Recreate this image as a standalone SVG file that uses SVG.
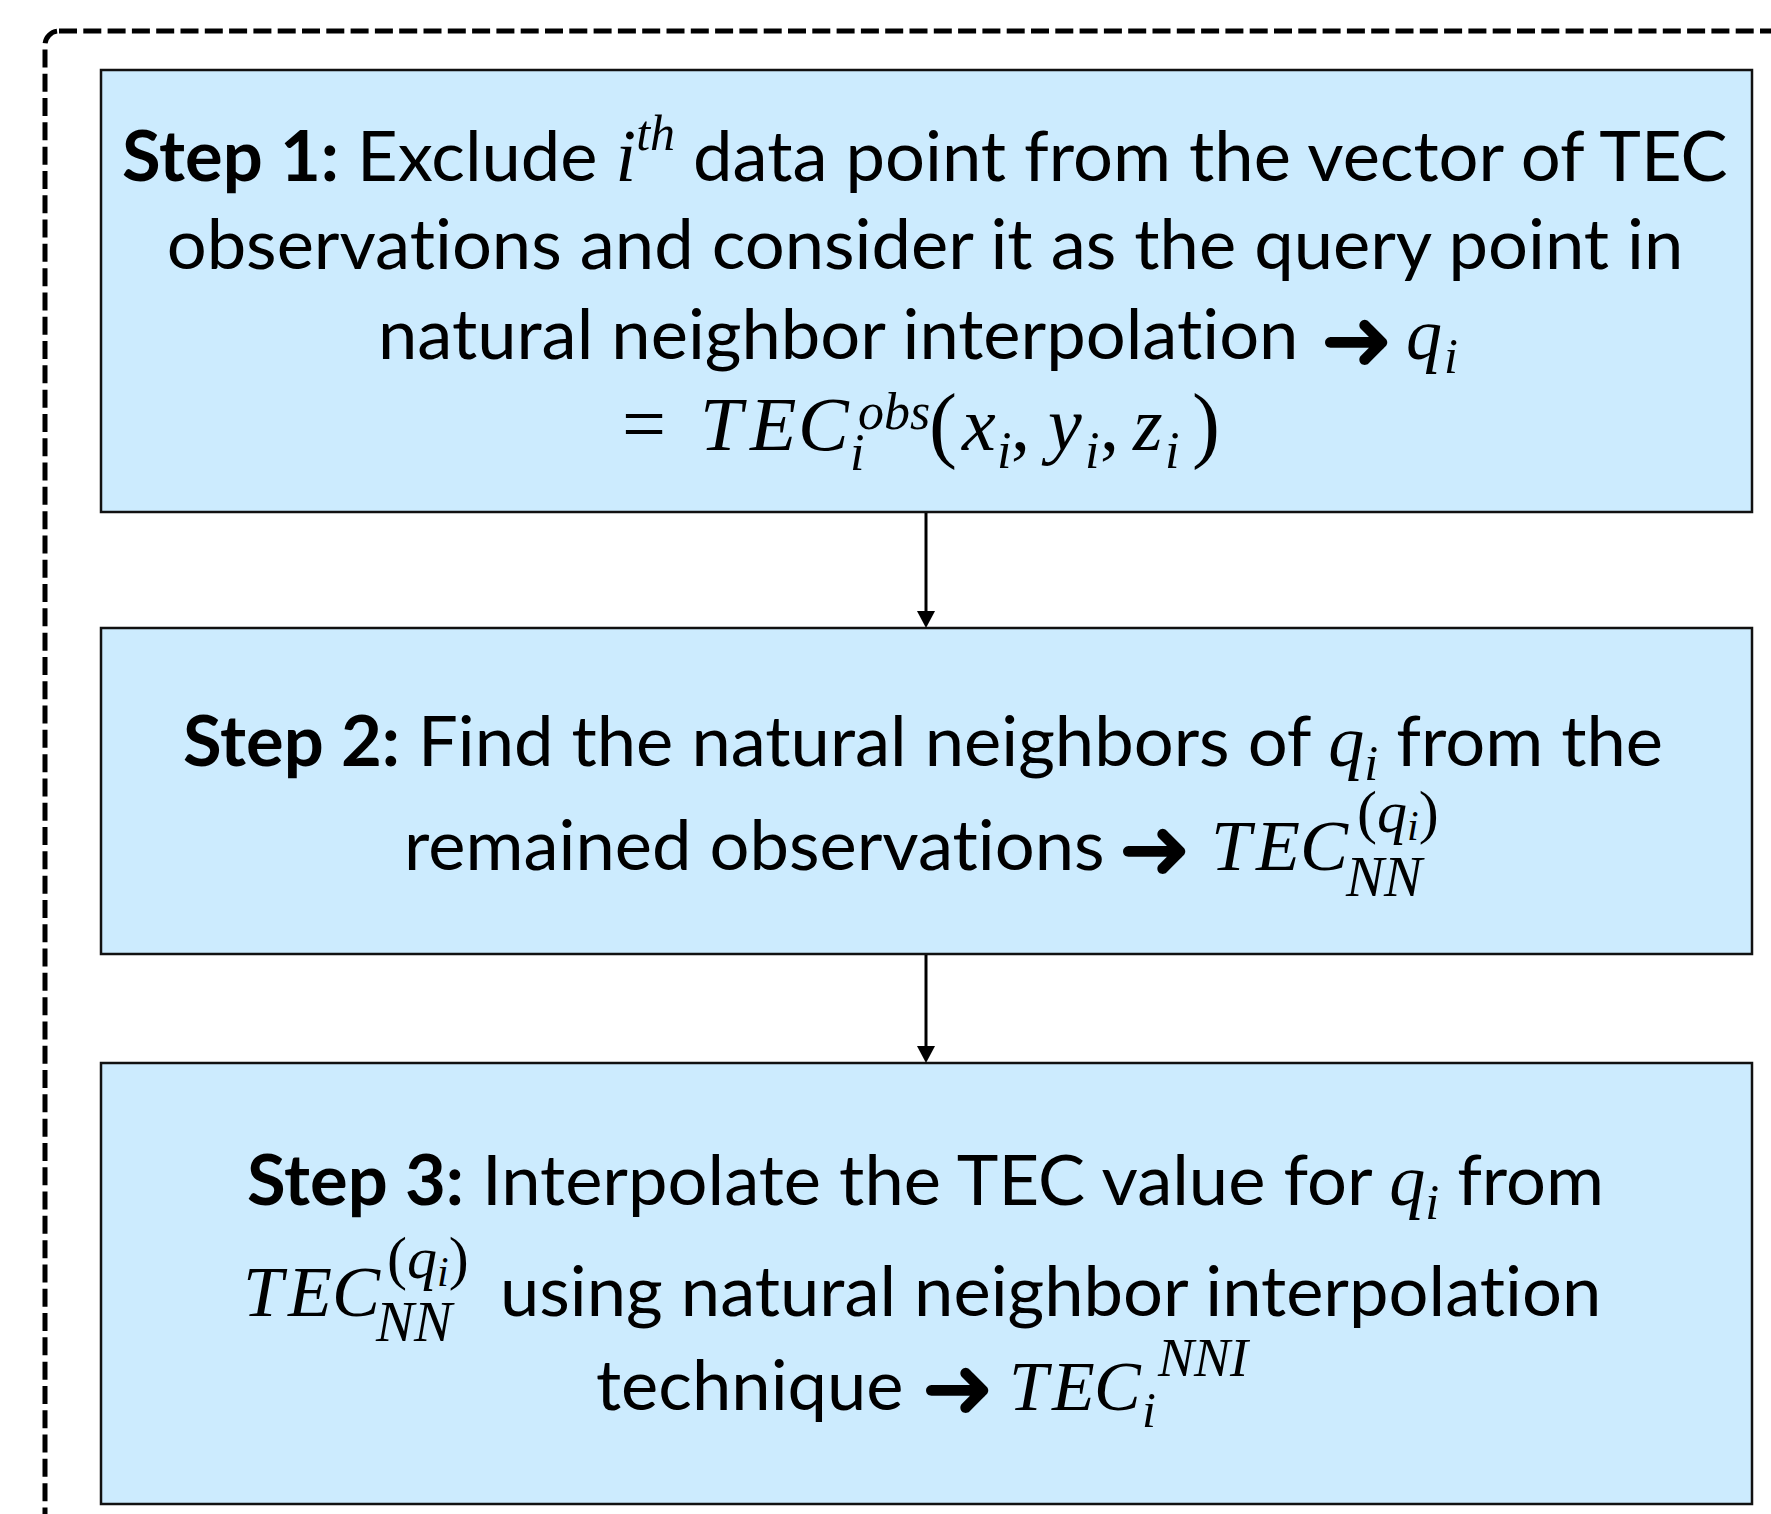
<svg xmlns="http://www.w3.org/2000/svg" width="1771" height="1514" viewBox="0 0 1771 1514">
<defs>
<style>
.box{fill:#CCEBFE;stroke:#111;stroke-width:2.5}
.t{font-family:Lato,"Open Sans",sans-serif;font-size:70.5px;fill:#000;font-variant-ligatures:none}
.b{font-weight:bold}
.m{font-family:"Liberation Serif",serif;font-style:italic;fill:#000}
.mu{font-family:"Liberation Serif",serif;font-style:normal;fill:#000}
.arr{font-family:"DejaVu Sans",sans-serif;font-size:88px;fill:#000}
.conn{stroke:#000;stroke-width:3;fill:none;marker-end:url(#ah)}
</style>
<marker id="ah" markerWidth="18" markerHeight="18" refX="0" refY="9" orient="auto" markerUnits="userSpaceOnUse">
<path d="M0,0 L17,9 L0,18 z" fill="#000"/>
</marker>
</defs>
<rect x="45" y="31" width="1800" height="1600" rx="14" fill="none" stroke="#000" stroke-width="5" stroke-dasharray="18 6.3"/>

<g id="step1">
<rect class="box" x="101" y="70" width="1651" height="442"/>
<text class="t" x="122" y="181"><tspan class="b">Step 1:</tspan> Exclude <tspan class="m" font-size="74">i</tspan><tspan class="m" font-size="50" dy="-31">th</tspan><tspan dy="31"> data point from the vector of TEC</tspan></text>
<text class="t" x="925" y="269" text-anchor="middle">observations and consider it as the query point in</text>
<text class="t" x="378" y="359">natural neighbor interpolation</text>
<text class="arr" x="1320" y="370">➜</text>
<text class="m" font-size="72" x="1406" y="359">q</text>
<text class="m" font-size="50" x="1444" y="373">i</text>
<text class="mu" font-size="78" x="622" y="450">=</text>
<text class="m" font-size="76" y="450"><tspan x="700">T</tspan><tspan x="750">E</tspan><tspan x="798">C</tspan></text>
<text class="m" font-size="52" x="850" y="470">i</text>
<text class="m" font-size="52" x="858" y="429">obs</text>
<text class="mu" font-size="84" x="929" y="452">(</text>
<text class="m" font-size="76" x="962" y="450">x</text>
<text class="m" font-size="52" x="997" y="468">i</text>
<text class="mu" font-size="76" x="1011" y="450">,</text>
<text class="m" font-size="76" x="1048" y="450">y</text>
<text class="m" font-size="52" x="1085" y="468">i</text>
<text class="mu" font-size="76" x="1100" y="450">,</text>
<text class="m" font-size="76" x="1133" y="450">z</text>
<text class="m" font-size="52" x="1165" y="468">i</text>
<text class="mu" font-size="84" x="1192" y="452">)</text>
</g>

<g id="step2">
<rect class="box" x="101" y="628" width="1651" height="326"/>
<text class="t" x="183" y="766"><tspan class="b">Step 2:</tspan> Find the natural neighbors of <tspan class="m" font-size="72">q</tspan><tspan class="m" font-size="50" dy="14">i</tspan><tspan dy="-14"> from the</tspan></text>
<text class="t" x="404" y="870">remained observations</text>
<text class="arr" x="1118" y="879">➜</text>
<text class="m" font-size="72" y="870"><tspan x="1211">T</tspan><tspan x="1256">E</tspan><tspan x="1300">C</tspan></text>
<text class="m" font-size="57" x="1346" y="896">NN</text>
<text class="m" font-size="60" x="1357" y="832"><tspan class="mu">(</tspan>q<tspan font-size="42" dy="8">i</tspan><tspan class="mu" dy="-8">)</tspan></text>
</g>

<g id="step3">
<rect class="box" x="101" y="1063" width="1651" height="441"/>
<text class="t" x="247" y="1205"><tspan class="b">Step 3:</tspan> Interpolate the TEC value for <tspan class="m" font-size="72">q</tspan><tspan class="m" font-size="50" dy="14">i</tspan><tspan dy="-14"> from</tspan></text>
<text class="m" font-size="72" y="1316"><tspan x="243">T</tspan><tspan x="288">E</tspan><tspan x="332">C</tspan></text>
<text class="m" font-size="57" x="376" y="1341">NN</text>
<text class="m" font-size="60" x="387" y="1278"><tspan class="mu">(</tspan>q<tspan font-size="42" dy="8">i</tspan><tspan class="mu" dy="-8">)</tspan></text>
<text class="t" x="500" y="1316">using natural neighbor interpolation</text>
<text class="t" x="596" y="1410">technique</text>
<text class="arr" x="921" y="1418">➜</text>
<text class="m" font-size="70" y="1410"><tspan x="1009">T</tspan><tspan x="1052">E</tspan><tspan x="1094">C</tspan></text>
<text class="m" font-size="50" x="1142" y="1427">i</text>
<text class="m" font-size="54" x="1158" y="1376">NNI</text>
</g>

<g id="connectors">
<path class="conn" d="M926,513 L926,611"/>
<path class="conn" d="M926,955 L926,1046"/>
</g>
</svg>
